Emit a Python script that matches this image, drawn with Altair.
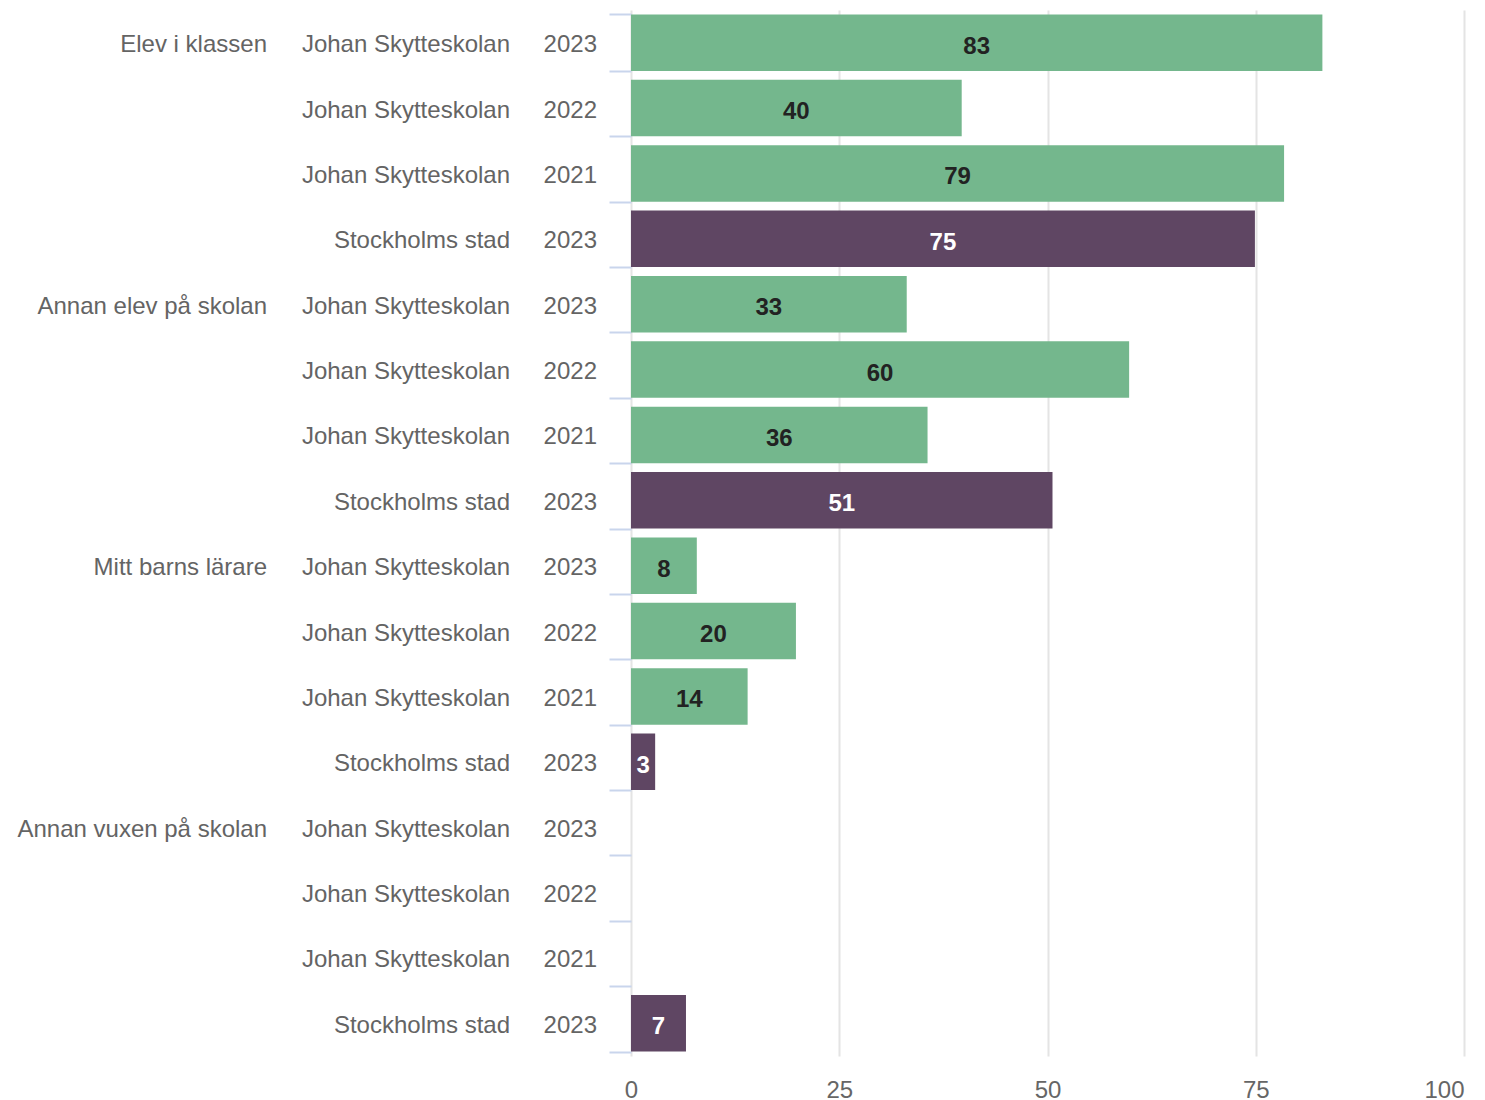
import altair as alt
import pandas as pd

categories = ["Elev i klassen", "Annan elev på skolan", "Mitt barns lärare", "Annan vuxen på skolan"]
units = ["Johan Skytteskolan", "Johan Skytteskolan", "Johan Skytteskolan", "Stockholms stad"]
years = ["2023", "2022", "2021", "2023"]

values = [
    [83.0, 39.7, 78.4, 74.9],
    [33.1, 59.8, 35.6, 50.6],
    [7.9, 19.8, 14.0, 2.9],
    [None, None, None, 6.6],
]
labels = [
    ["83", "40", "79", "75"],
    ["33", "60", "36", "51"],
    ["8", "20", "14", "3"],
    ["", "", "", "7"],
]

rows = []
i = 0
for c, cat in enumerate(categories):
    for k in range(4):
        rows.append({
            "row": f"r{i:02d}",
            "cat_label": cat if k == 0 else "",
            "unit": units[k],
            "year": years[k],
            "value": values[c][k],
            "label": labels[c][k],
        })
        i += 1
df = pd.DataFrame(rows)
order = list(df["row"])

GREEN = "#74b78d"
PURPLE = "#5f4663"
FONT = "Liberation Sans"

yenc = alt.Y("row:N", sort=order,
             scale=alt.Scale(paddingInner=0.136, paddingOuter=0.068),
             axis=alt.Axis(labels=False, domain=False, grid=False, title=None,
                           ticks=True, tickBand="extent", tickSize=22,
                           tickColor="#c9d5ec", tickWidth=2))

base = alt.Chart(df)

bars = base.transform_filter("isValid(datum.value)").mark_bar().encode(
    y=yenc,
    x=alt.X("value:Q", scale=alt.Scale(domain=[0, 100]),
            axis=alt.Axis(values=[0, 25, 50, 75, 100], title=None, domain=False, ticks=False,
                          grid=True, gridColor="#e4e4e4", gridWidth=2,
                          labelFont=FONT, labelFontSize=24, labelColor="#666666",
                          labelPadding=22,
                          labelAlign={"condition": {"test": "datum.value == 100", "value": "right"}, "value": "center"})),
    color=alt.Color("unit:N", scale=alt.Scale(domain=["Johan Skytteskolan", "Stockholms stad"],
                                              range=[GREEN, PURPLE]), legend=None),
)

barlabels = base.transform_filter("isValid(datum.value)").transform_calculate(
    mid="datum.value / 2"
).mark_text(font=FONT, fontSize=24, fontWeight="bold", baseline="middle", dy=4).encode(
    y=alt.Y("row:N", sort=order),
    x=alt.X("mid:Q"),
    text="label:N",
    color=alt.condition("datum.unit == 'Stockholms stad'", alt.value("white"), alt.value("#222222")),
)

def col_text(field, xpos):
    return base.mark_text(font=FONT, fontSize=24, align="right", baseline="middle",
                          color="#646464", dy=2.5).encode(
        y=alt.Y("row:N", sort=order),
        x=alt.value(xpos),
        text=f"{field}:N",
    )

chart = alt.layer(
    bars, barlabels,
    col_text("cat_label", -364), col_text("unit", -121), col_text("year", -34),
).properties(
    width=833, height=1046,
    autosize=alt.AutoSizeParams(type="none"),
    padding={"left": 623, "top": 2, "right": 13, "bottom": 44},
).configure_view(stroke=None)

chart.save("out.html", embed_options={"renderer": "svg", "actions": False})
